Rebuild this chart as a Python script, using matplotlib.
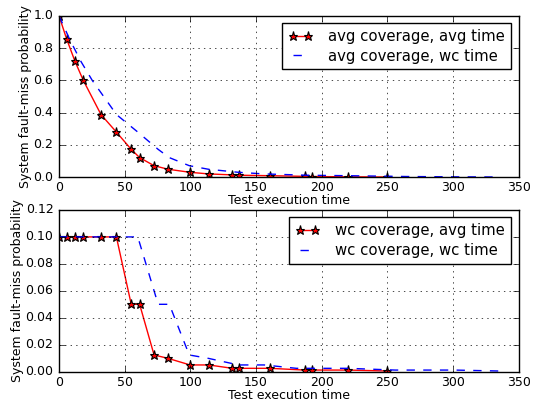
import matplotlib
matplotlib.use("Agg")
import matplotlib.pyplot as plt

plt.style.use('classic')

# test execution time of each step (avg and worst case)
avg_times = [0, 5.8, 12.2, 18.5, 32, 43.7, 55, 61.4, 72.4, 83, 99.8, 114,
             132, 137, 160.7, 187, 192.5, 220, 250]
wc_times = [0, 8, 16.7, 25.3, 43.8, 60, 75.5, 84, 99.2, 113.7, 136.7, 156.2,
            180.8, 187.7, 220, 256, 263.7, 301, 335]

# fault-miss probability for avg and wc coverage
avg_cov = [1.0, 0.856, 0.717, 0.60, 0.388, 0.28, 0.173, 0.122, 0.072, 0.05,
           0.031, 0.021, 0.015, 0.013, 0.01, 0.006, 0.005, 0.003, 0.002]
wc_cov = [0.1, 0.1, 0.1, 0.1, 0.1, 0.1, 0.05, 0.05, 0.0124, 0.0099, 0.005,
          0.005, 0.0025, 0.0025, 0.0025, 0.0012, 0.0012, 0.0012, 0.0005]

fig = plt.figure(figsize=(5.33, 4.03), dpi=100, facecolor='white')
ax1 = fig.add_axes([0.1107, 0.56, 0.8623, 0.401])
ax2 = fig.add_axes([0.1107, 0.0777, 0.8623, 0.4013])


def panel(ax, cov, name, ylim):
    ax.plot(avg_times, cov, 'r-', marker='*', markersize=6.5,
            markeredgewidth=0.8, markerfacecolor='red',
            markeredgecolor='black', label=name + ', avg time')
    ax.plot(wc_times, cov, 'b--', label=name + ', wc time')
    ax.set_xlim(0, 350)
    ax.set_ylim(*ylim)
    ax.grid(True)
    ax.tick_params(labelsize=9)
    ax.tick_params(axis='x', pad=3)
    ax.set_xlabel('Test execution time', fontsize=9, labelpad=0)
    ax.set_ylabel('System fault-miss probability', fontsize=9, labelpad=1)
    leg = ax.legend(loc='upper right', fontsize=10.7, numpoints=2,
                    fancybox=False, borderaxespad=0.5, handlelength=1.6,
                    handletextpad=1.1, labelspacing=0.3)
    leg.get_frame().set_linewidth(1)


panel(ax1, avg_cov, 'avg coverage', (0, 1.0))
panel(ax2, wc_cov, 'wc coverage', (0, 0.12))
ax1.set_yticks([0, 0.2, 0.4, 0.6, 0.8, 1.0])
ax2.set_yticks([0, 0.02, 0.04, 0.06, 0.08, 0.10, 0.12])

fig.savefig('out.png', dpi=100, facecolor='white')
